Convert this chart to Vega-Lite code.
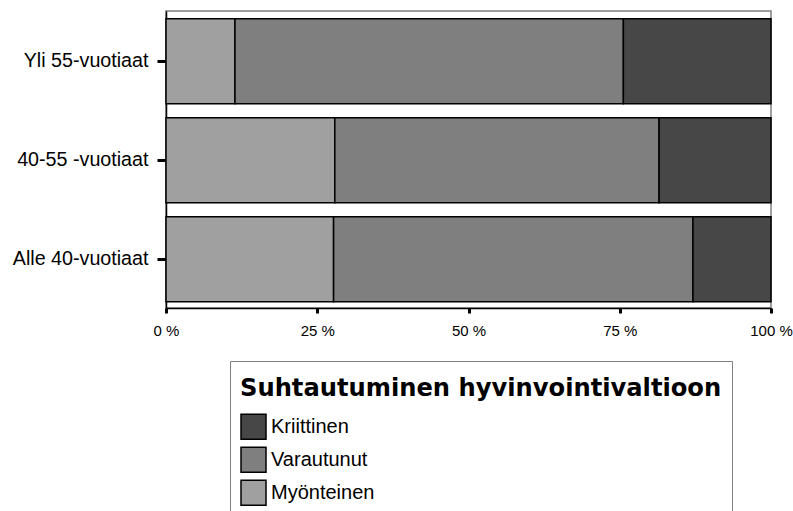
{
  "$schema": "https://vega.github.io/schema/vega-lite/v6.json",
  "autosize": "none",
  "padding": {"left": 166, "top": 11, "right": 22, "bottom": 203},
  "width": 605,
  "height": 297,
  "background": "white",
  "data": {
    "values": [
      {"ryhma": "Yli 55-vuotiaat", "kanta": "Myönteinen", "n": 1, "osuus": 11.4},
      {"ryhma": "Yli 55-vuotiaat", "kanta": "Varautunut", "n": 2, "osuus": 64.2},
      {"ryhma": "Yli 55-vuotiaat", "kanta": "Kriittinen", "n": 3, "osuus": 24.4},
      {"ryhma": "40-55 -vuotiaat", "kanta": "Myönteinen", "n": 1, "osuus": 27.9},
      {"ryhma": "40-55 -vuotiaat", "kanta": "Varautunut", "n": 2, "osuus": 53.6},
      {"ryhma": "40-55 -vuotiaat", "kanta": "Kriittinen", "n": 3, "osuus": 18.5},
      {"ryhma": "Alle 40-vuotiaat", "kanta": "Myönteinen", "n": 1, "osuus": 27.7},
      {"ryhma": "Alle 40-vuotiaat", "kanta": "Varautunut", "n": 2, "osuus": 59.4},
      {"ryhma": "Alle 40-vuotiaat", "kanta": "Kriittinen", "n": 3, "osuus": 12.9}
    ]
  },
  "mark": {"type": "bar", "stroke": "black", "strokeWidth": 1.5},
  "encoding": {
    "y": {
      "field": "ryhma",
      "type": "nominal",
      "sort": ["Yli 55-vuotiaat", "40-55 -vuotiaat", "Alle 40-vuotiaat"],
      "scale": {"paddingInner": 0.1414, "paddingOuter": 0.0707, "align": 0.55},
      "axis": {
        "title": null,
        "domainColor": "black",
        "domainWidth": 1.5,
        "tickColor": "black",
        "tickWidth": 3,
        "tickSize": 9,
        "labelPadding": 9,
        "labelFont": "Liberation Sans",
        "labelFontSize": 19.7,
        "labelColor": "black"
      }
    },
    "x": {
      "field": "osuus",
      "type": "quantitative",
      "stack": "zero",
      "scale": {"domain": [0, 100], "nice": false},
      "axis": {
        "title": null,
        "values": [0, 25, 50, 75, 100],
        "labelExpr": "datum.value + ' %'",
        "grid": false,
        "domainColor": "black",
        "domainWidth": 1.5,
        "tickColor": "black",
        "tickWidth": 3,
        "tickSize": 5,
        "labelPadding": 10,
        "labelFont": "Liberation Sans",
        "labelFontSize": 15,
        "labelColor": "black",
        "labelFlush": false
      }
    },
    "order": {"field": "n", "type": "quantitative"},
    "color": {
      "field": "kanta",
      "type": "nominal",
      "scale": {
        "domain": ["Kriittinen", "Varautunut", "Myönteinen"],
        "range": ["#474747", "#7f7f7f", "#a0a0a0"]
      },
      "legend": {
        "title": "Suhtautuminen hyvinvointivaltioon",
        "orient": "none",
        "legendX": 64,
        "legendY": 350,
        "strokeColor": "#808080",
        "padding": 10,
        "titleFont": "DejaVu Sans",
        "titleFontSize": 24.2,
        "titleFontWeight": "bold",
        "titleColor": "black",
        "titleLimit": 1000,
        "titleBaseline": "line-top",
        "titleLineHeight": 36,
        "titlePadding": 18,
        "labelFont": "Liberation Sans",
        "labelFontSize": 20,
        "labelColor": "black",
        "labelOffset": 4,
        "labelLimit": 400,
        "symbolType": "square",
        "symbolSize": 625,
        "symbolStrokeColor": "black",
        "symbolStrokeWidth": 1.5,
        "symbolOpacity": 1,
        "rowPadding": 2
      }
    }
  },
  "config": {
    "view": {"stroke": "#808080", "strokeWidth": 1.5}
  }
}
